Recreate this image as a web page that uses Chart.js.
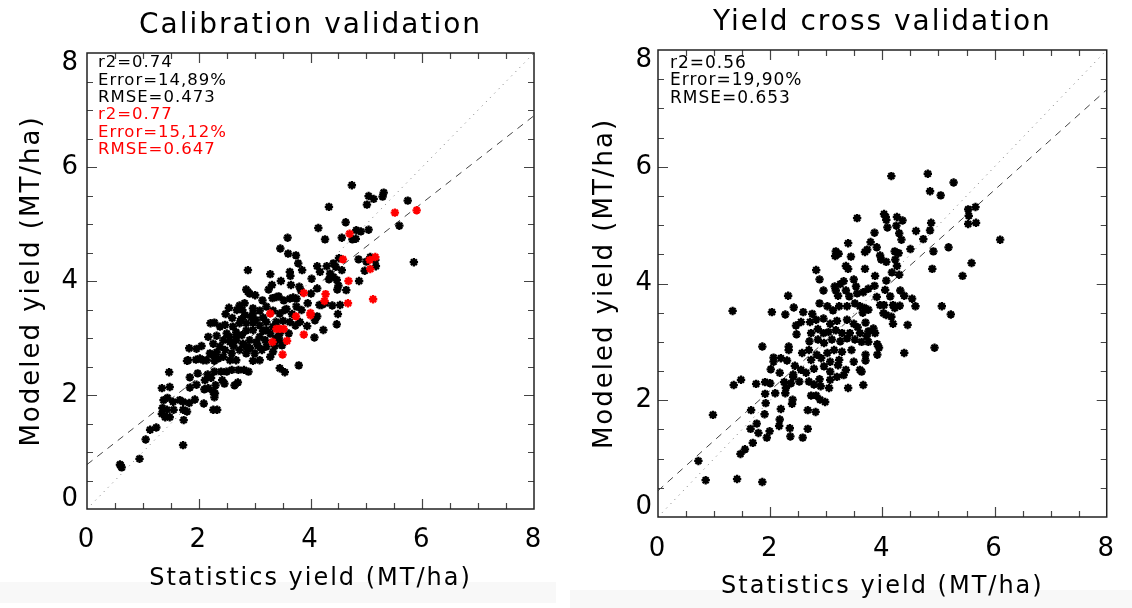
<!DOCTYPE html>
<html>
<head>
<meta charset="utf-8">
<script src="https://cdn.jsdelivr.net/npm/chart.js@4.4.0/dist/chart.umd.min.js"></script>
<style>
  html, body { margin: 0; padding: 0; background: #fff; width: 1132px; height: 608px; overflow: hidden; }
  .panel { position: absolute; top: 0; width: 566px; height: 608px; }
  #left { left: 0; }
  #right { left: 566px; }
  .band { position: absolute; background: #f8f8f8; }
</style>
</head>
<body>
<div class="band" style="left:0;top:582px;width:556px;height:21px"></div>
<div class="band" style="left:570px;top:590px;width:562px;height:18px"></div>
<div class="panel" id="left"><canvas id="calChart"></canvas></div>
<div class="panel" id="right"><canvas id="cvChart"></canvas></div>
<script>
// statistics yield (x) vs modeled yield (y), MT/ha
const calBlack = [
  [4.74,5.68],[5.04,5.49],[5.13,5.44],[5.31,5.55],[5.29,5.48],[5.01,5.34],[5.74,5.41],[4.33,5.30],[5.59,4.97],[5.85,4.33],
  [4.63,5.03],[4.14,4.93],[4.26,4.73],[4.56,4.76],[4.82,4.89],[4.90,4.87],[5.04,4.90],[4.75,4.73],[4.81,4.74],[3.59,4.76],
  [3.46,4.57],[3.60,4.48],[3.74,4.45],[3.78,4.31],[2.88,4.19],[3.28,4.12],[3.63,4.16],[3.64,4.09],[3.85,4.19],[4.12,4.26],
  [4.29,4.26],[4.41,4.31],[4.51,4.40],[4.45,4.25],[4.56,4.19],[4.35,4.13],[4.41,4.07],[4.33,4.03],[4.47,4.02],[4.86,4.38],
  [5.00,4.34],[5.07,4.42],[5.16,4.37],[5.17,4.26],[4.97,4.18],[4.87,4.00],[4.17,4.16],[3.47,4.00],[3.31,3.93],[3.25,3.85],
  [3.65,3.93],[4.02,4.04],[4.12,3.87],[4.01,3.78],[3.80,3.90],[3.83,3.83],[4.48,3.85],[4.50,3.92],[4.64,3.84],[2.85,3.85],
  [2.91,3.78],[3.01,3.75],[3.14,3.66],[3.32,3.70],[3.43,3.73],[3.52,3.66],[3.63,3.69],[3.75,3.69],[3.95,3.61],[4.16,3.58],
  [4.26,3.61],[4.39,3.57],[4.49,3.42],[4.47,3.24],[4.23,3.14],[4.07,3.01],[3.94,3.21],[3.81,3.28],[2.73,3.57],[2.54,3.53],
  [2.48,3.42],[2.68,3.49],[2.83,3.40],[2.94,3.37],[3.09,3.48],[3.21,3.55],[3.33,3.48],[3.45,3.43],[3.57,3.51],[3.67,3.42],
  [2.21,3.26],[2.28,3.27],[2.47,3.23],[2.61,3.20],[2.85,3.26],[2.97,3.27],[3.09,3.22],[3.21,3.28],[3.39,3.28],[3.51,3.30],
  [3.63,3.28],[3.73,3.22],[2.17,3.02],[2.32,3.04],[2.50,3.08],[2.67,3.10],[2.85,3.13],[2.97,3.14],[3.15,3.12],[3.28,3.08],
  [3.45,3.08],[3.61,3.08],[2.26,2.90],[2.38,2.85],[2.56,2.93],[2.67,2.96],[2.79,2.90],[2.91,2.96],[3.03,2.93],[3.19,2.96],
  [3.45,2.96],[3.49,2.87],[1.96,2.81],[2.05,2.86],[2.20,2.73],[2.32,2.75],[2.47,2.79],[2.59,2.73],[2.73,2.79],[2.85,2.73],
  [3.00,2.73],[3.13,2.79],[3.33,2.76],[3.36,2.86],[1.95,2.62],[2.02,2.64],[2.28,2.60],[2.44,2.67],[2.67,2.61],[2.97,2.60],
  [3.09,2.61],[3.28,2.67],[1.79,2.60],[1.47,2.40],[1.84,2.31],[1.98,2.38],[2.16,2.36],[2.28,2.41],[2.40,2.41],[2.59,2.44],
  [2.71,2.44],[2.81,2.44],[2.89,2.41],[3.45,2.47],[3.54,2.40],[3.79,2.52],[1.34,2.12],[1.48,2.14],[1.84,2.13],[1.96,2.18],
  [2.11,2.26],[2.22,2.30],[2.10,2.10],[2.30,2.17],[2.46,2.20],[2.64,2.17],[2.70,2.22],[2.26,2.05],[2.28,1.96],[1.93,1.92],
  [2.09,1.85],[1.37,1.91],[1.44,1.95],[1.54,1.88],[1.66,1.91],[1.35,1.77],[1.43,1.74],[1.55,1.74],[1.79,1.71],[2.26,1.74],
  [2.33,1.74],[1.34,1.67],[1.40,1.61],[1.48,1.61],[1.73,1.56],[1.24,1.43],[1.13,1.39],[1.05,1.22],[1.72,1.12],[0.94,0.88],
  [0.59,0.78],[0.62,0.73],[0.60,0.77],[3.84,3.49],[2.88,3.81],[3.39,3.72],[3.69,3.71],[4.20,3.58],[4.53,3.58],[2.82,3.61],
  [2.78,3.49],[2.97,3.52],[3.54,3.49],[3.75,3.55],[4.12,3.38],[4.08,3.31],[1.72,1.88],[1.83,1.86],[1.72,1.74],[2.17,2.12],
  [2.29,2.03],[1.83,2.82],[1.81,2.61],[2.08,2.61],[2.14,2.61],[2.35,2.64],[2.50,2.41],[2.42,2.26],[2.26,2.70],[2.73,3.26],
  [2.67,3.02],[3.09,3.02],[3.21,2.85],[2.85,2.85],[2.56,2.61],[2.44,2.96],[2.38,3.20],[3.21,3.14],[2.97,3.43],[3.33,3.20],
  [2.60,3.35],[2.76,3.33],[3.02,3.32],[3.15,3.36],[2.55,3.02],[2.77,3.05],[3.38,3.00],[2.62,2.86],[2.92,2.82],[3.06,2.86]
]

const calRed = [
  [5.51,5.20],[5.90,5.24],[4.70,4.83],[4.58,4.38],[5.06,4.37],[5.16,4.42],[5.07,4.21],[4.68,4.00],[3.88,3.79],[4.27,3.77],
  [4.25,3.65],[5.12,3.68],[4.67,3.61],[3.28,3.43],[3.74,3.38],[4.00,3.44],[4.00,3.40],[3.39,3.16],[3.45,3.16],[3.52,3.16],
  [3.88,3.06],[3.32,2.93],[3.58,2.95],[3.50,2.71]
]

const crossVal = [
  [4.16,5.84],[4.81,5.88],[5.27,5.73],[4.85,5.58],[5.04,5.51],[5.53,5.27],[5.66,5.31],[5.54,5.16],[5.53,5.02],[5.67,5.04],
  [6.10,4.75],[3.55,5.12],[4.03,5.19],[4.06,5.14],[4.07,5.09],[4.26,5.14],[4.36,5.08],[4.09,4.96],[4.25,4.99],[4.87,5.04],
  [4.85,4.91],[4.60,4.90],[4.73,4.76],[3.86,4.87],[4.30,4.86],[4.34,4.75],[3.79,4.71],[3.90,4.62],[4.91,4.55],[5.18,4.62],
  [4.50,4.59],[3.17,4.55],[3.22,4.51],[3.39,4.69],[3.44,4.46],[3.69,4.54],[3.73,4.58],[3.96,4.48],[3.98,4.41],[4.07,4.37],
  [4.22,4.55],[4.29,4.52],[4.23,4.41],[4.26,4.30],[3.35,4.30],[3.39,4.25],[3.69,4.25],[2.82,4.23],[2.88,4.07],[3.49,4.07],
  [3.87,4.13],[3.86,3.96],[4.17,4.19],[4.07,4.05],[4.30,4.15],[4.89,4.25],[5.43,4.13],[5.59,4.35],[3.31,4.04],[2.95,3.88],
  [3.15,3.95],[3.17,3.88],[3.21,3.79],[3.35,3.88],[3.53,3.95],[3.41,3.78],[3.55,3.83],[3.66,3.85],[3.75,3.91],[3.90,3.77],
  [4.05,3.89],[4.14,3.78],[4.32,3.88],[4.39,3.79],[4.53,3.74],[2.32,3.79],[2.42,3.59],[2.03,3.51],[2.27,3.47],[1.33,3.53],
  [2.59,3.51],[2.75,3.48],[2.88,3.66],[3.02,3.61],[3.12,3.54],[3.23,3.61],[3.37,3.61],[3.51,3.66],[3.60,3.61],[3.65,3.50],
  [3.96,3.63],[4.03,3.63],[4.19,3.63],[4.31,3.62],[4.59,3.61],[4.02,3.49],[4.16,3.43],[5.06,3.61],[5.22,3.47],[2.55,3.34],
  [2.71,3.34],[2.46,3.28],[2.82,3.38],[2.95,3.40],[3.07,3.31],[3.19,3.36],[3.37,3.38],[3.49,3.31],[3.56,3.25],[3.70,3.33],
  [3.75,3.18],[4.19,3.31],[4.45,3.29],[2.47,3.13],[2.73,3.15],[2.85,3.22],[2.95,3.15],[3.04,3.17],[3.17,3.20],[3.28,3.15],
  [3.42,3.15],[3.60,3.15],[3.72,3.10],[3.84,3.23],[3.87,3.15],[1.86,2.92],[2.33,2.92],[2.33,2.86],[2.70,3.01],[2.85,3.04],
  [2.96,2.98],[3.10,3.04],[3.25,3.01],[3.37,3.06],[3.51,3.04],[3.63,3.00],[3.75,3.00],[3.91,2.96],[3.94,2.90],[4.93,2.90],
  [4.39,2.81],[2.57,2.81],[2.69,2.86],[2.83,2.78],[3.02,2.81],[3.14,2.86],[3.28,2.83],[3.45,2.86],[3.70,2.78],[3.91,2.78],
  [2.06,2.73],[2.06,2.66],[2.19,2.72],[2.73,2.69],[2.91,2.72],[3.07,2.66],[3.23,2.69],[3.49,2.66],[3.70,2.68],[2.01,2.53],
  [2.17,2.47],[2.41,2.44],[2.55,2.52],[2.64,2.47],[2.78,2.54],[2.96,2.58],[3.07,2.49],[3.21,2.60],[3.35,2.52],[3.60,2.52],
  [3.63,2.49],[2.41,2.40],[2.00,2.29],[2.25,2.31],[2.37,2.29],[2.52,2.32],[2.69,2.32],[2.88,2.36],[3.07,2.35],[3.19,2.40],
  [3.31,2.43],[1.48,2.35],[1.35,2.26],[1.75,2.28],[1.91,2.31],[2.28,2.21],[2.78,2.27],[2.90,2.24],[3.05,2.21],[3.39,2.21],
  [3.66,2.26],[1.91,2.11],[2.40,2.01],[2.73,2.08],[2.82,2.08],[2.89,2.01],[2.98,1.97],[1.92,1.95],[2.19,1.85],[2.39,1.94],
  [2.67,1.83],[2.81,1.80],[1.66,1.83],[1.90,1.76],[2.17,1.67],[2.16,1.56],[1.65,1.51],[1.76,1.60],[1.79,1.44],[1.99,1.47],
  [1.94,1.36],[2.35,1.52],[2.36,1.38],[2.67,1.51],[2.58,1.36],[1.69,1.27],[1.55,1.16],[1.47,1.08],[0.98,1.75],[0.72,0.96],
  [0.85,0.63],[1.41,0.65],[1.86,0.60],[2.30,2.68],[2.44,2.59],[2.09,2.12],[2.27,2.12],[3.16,4.47],[3.25,3.99],[4.22,3.58],
  [4.07,3.46],[3.68,3.58],[3.75,3.55]
]

// regression (dashed) and 1:1 (dotted) lines
const calFit = [[0,0.78],[8,6.9]]
const cvFit = [[0,0.45],[8,7.32]]
const oneToOne = [[0,0],[8,8]]

const calStats = ['r2=0.74', 'Error=14,89%', 'RMSE=0.473']
const calRedStats = ['r2=0.77', 'Error=15,12%', 'RMSE=0.647']
const cvStats = ['r2=0.56', 'Error=19,90%', 'RMSE=0.653']

const axisTicks = [0, 2, 4, 6, 8]
const minorTicks = [0.5, 1, 1.5, 2, 2.5, 3, 3.5, 4, 4.5, 5, 5.5, 6, 6.5, 7, 7.5]

const toPoints = arr => arr.map(p => ({x: p[0], y: p[1]}))
const FONT = 'DejaVu Sans'

// box, inward ticks on all four sides, stats text
const framePlugin = {
  id: 'frame',
  beforeDraw(chart) {
    chart.ctx.letterSpacing = '2px'
  },
  afterDraw(chart, args, opts) {
    const {ctx, chartArea: a, scales: {x, y}} = chart
    ctx.save()
    ctx.lineWidth = 1.2
    ctx.strokeStyle = '#444'
    ctx.beginPath()
    minorTicks.forEach(v => {
      const len = v % 2 === 0 ? 10 : 6
      const px = Math.round(x.getPixelForValue(v)) + 0.5
      const py = Math.round(y.getPixelForValue(v)) + 0.5
      ctx.moveTo(px, a.bottom); ctx.lineTo(px, a.bottom - len)
      ctx.moveTo(px, a.top); ctx.lineTo(px, a.top + len)
      ctx.moveTo(a.left, py); ctx.lineTo(a.left + len, py)
      ctx.moveTo(a.right, py); ctx.lineTo(a.right - len, py)
    })
    ctx.stroke()
    ctx.lineWidth = 1.5
    ctx.strokeStyle = '#222'
    ctx.strokeRect(a.left, a.top, a.right - a.left, a.bottom - a.top)

    ctx.letterSpacing = '1px'
    ctx.font = opts.fontSize + 'px "' + FONT + '"'
    ctx.textBaseline = 'alphabetic'
    ctx.textAlign = 'left'
    opts.lines.forEach((l, i) => {
      ctx.fillStyle = l.color
      ctx.fillText(l.text, a.left + opts.dx, a.top + opts.dy + i * opts.step)
    })
    ctx.restore()
  }
}

const makeChart = (id, cfg) => new Chart(document.getElementById(id), {
  type: 'scatter',
  data: {
    datasets: cfg.series.concat([
      {
        data: toPoints(cfg.fit), showLine: true, pointRadius: 0,
        borderColor: '#444', borderWidth: 1, borderDash: [7, 6], order: 5
      },
      {
        data: toPoints(oneToOne), showLine: true, pointRadius: 0,
        borderColor: '#777', borderWidth: 1, borderDash: [1, 5], order: 6
      }
    ])
  },
  options: {
    responsive: true,
    maintainAspectRatio: false,
    animation: false,
    events: [],
    layout: { padding: { left: 0, right: cfg.padRight, top: 0, bottom: 0 } },
    plugins: {
      legend: { display: false },
      tooltip: { enabled: false },
      title: {
        display: true, text: cfg.title, fullSize: false, color: '#000',
        font: { family: FONT, size: 28, weight: 'normal' },
        padding: cfg.titlePad
      },
      frame: { lines: cfg.stats, dx: cfg.statsDx, dy: cfg.statsDy, step: 17.3, fontSize: cfg.statsFont }
    },
    scales: {
      x: {
        type: 'linear', min: 0, max: 8,
        afterBuildTicks: s => { s.ticks = axisTicks.map(v => ({value: v})) },
        afterFit: s => { s.height = cfg.xHeight },
        grid: { display: false, drawTicks: false },
        border: { display: false },
        ticks: { color: '#000', font: { family: FONT, size: 26 }, padding: cfg.xTickPad, maxRotation: 0, autoSkip: false },
        title: {
          display: true, text: 'Statistics yield (MT/ha)', color: '#000',
          font: { family: FONT, size: 24 }, padding: { top: 0, bottom: cfg.xTitlePad }
        }
      },
      y: {
        type: 'linear', min: 0, max: 8,
        // IDL nudges the end labels inside the box
        afterBuildTicks: s => { s.ticks = [0.17, 2, 4, 6, 7.82].map(v => ({value: v})) },
        afterFit: s => { s.width = cfg.yWidth },
        grid: { display: false, drawTicks: false },
        border: { display: false },
        ticks: {
          color: '#000', font: { family: FONT, size: 26 }, padding: cfg.yTickPad, autoSkip: false,
          callback: v => Math.round(v)
        },
        title: {
          display: true, text: 'Modeled yield (MT/ha)', color: '#000',
          font: { family: FONT, size: 26 }, padding: { top: cfg.yTitlePad, bottom: 0 }
        }
      }
    }
  },
  plugins: [framePlugin]
})

const starStyle = color => ({
  pointStyle: 'star', pointRadius: 4.2, borderWidth: 2.3,
  borderColor: color, backgroundColor: color
})

makeChart('calChart', {
  title: 'Calibration validation',
  series: [
    Object.assign({ data: toPoints(calRed), order: 0 }, starStyle('#ff0000')),
    Object.assign({ data: toPoints(calBlack), order: 1 }, starStyle('#000'))
  ],
  fit: calFit,
  stats: calStats.map(t => ({text: t, color: '#000'})).concat(calRedStats.map(t => ({text: t, color: '#ff0000'}))),
  statsDx: 11, statsDy: 14.3, statsFont: 16.5,
  padRight: 32, yWidth: 87, xHeight: 99,
  titlePad: { top: 9, bottom: 10.4 },
  xTickPad: 16, yTickPad: 7,
  xTitlePad: 14.6, yTitlePad: 17
})

makeChart('cvChart', {
  title: 'Yield cross validation',
  series: [
    Object.assign({ data: toPoints(crossVal), order: 1 }, starStyle('#000'))
  ],
  fit: cvFit,
  stats: cvStats.map(t => ({text: t, color: '#000'})),
  statsDx: 12, statsDy: 18, statsFont: 17,
  padRight: 19, yWidth: 92, xHeight: 91,
  titlePad: { top: 6.2, bottom: 10.2 },
  xTickPad: 17, yTickPad: 4,
  xTitlePad: 6.6, yTitlePad: 24
})
</script>
</body>
</html>
